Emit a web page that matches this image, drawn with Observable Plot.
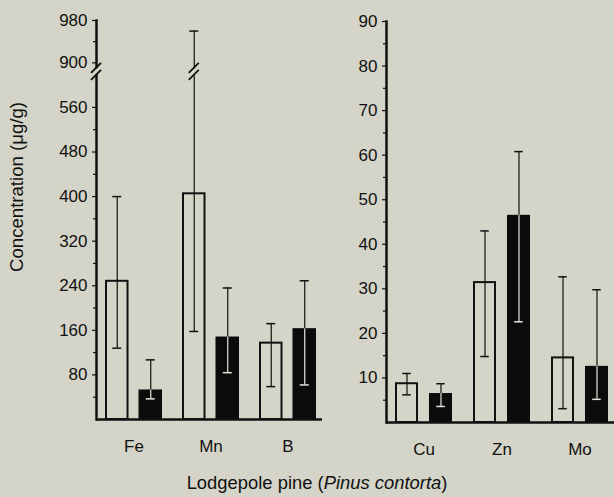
<!DOCTYPE html>
<html><head><meta charset="utf-8">
<script src="https://cdn.jsdelivr.net/npm/d3@7"></script>
<script src="https://cdn.jsdelivr.net/npm/@observablehq/plot@0.6"></script>
<style>
html,body{margin:0;padding:0;background:#d4d5c8;}
#chart{position:relative;width:614px;height:497px;overflow:hidden;background:#d4d5c8;font-family:"Liberation Sans",Arial,sans-serif;color:#111;}
#left,#right{position:absolute;top:0;}
#left{left:0}
#right{left:326px}
#ytitle{position:absolute;left:17px;top:187px;transform:translate(-50%,-50%) rotate(-90deg);white-space:nowrap;font-size:18.6px;line-height:1;}
#caption{position:absolute;left:317px;top:474px;transform:translateX(-50%);white-space:nowrap;font-size:18.4px;line-height:1;}
</style></head><body>
<div id="chart"><div id="left"></div><div id="right"></div><div id="ytitle">Concentration (μg/g)</div><div id="caption">Lodgepole pine (<i>Pinus contorta</i>)</div></div>
<script>
// ---- data ----
const leftElements = ["Fe", "Mn", "B"];
const leftOpen    = [248, 405, 137];
const leftOpenLo  = [128, 158, 59];
const leftOpenHi  = [400, 960, 172];
const leftSolid   = [53, 148, 163];
const leftSolidLo = [37, 84, 62];
const leftSolidHi = [107, 236, 249];
const leftTicks = [80, 160, 240, 320, 400, 480, 560, 900, 980];
const leftMinor = [40, 120, 200, 280, 360, 440, 520, 940];

const rightElements = ["Cu", "Zn", "Mo"];
const rightOpen    = [8.7, 31.4, 14.5];
const rightOpenLo  = [6.2, 14.8, 3.1];
const rightOpenHi  = [11.0, 43.0, 32.7];
const rightSolid   = [6.5, 46.5, 12.6];
const rightSolidLo = [3.6, 22.6, 5.2];
const rightSolidHi = [8.7, 60.8, 29.8];
const rightTicks = [10, 20, 30, 40, 50, 60, 70, 80, 90];
const rightMinor = [5, 15, 25, 35, 45, 55, 65, 75, 85];

// broken axis: 560 -> 900 gap compressed
const brk = v => v <= 560 ? v : 640 + (v - 900) * 0.95;
const ident = v => v;

const BG = "#d4d5c8", INK = "#111", LIGHT = "#e6e6dc";

function panel(o) {
  const n = o.elements.length;
  const pi = 0.265, po = 0.09, align = 0.6;
  const W = o.width - o.mL;
  const step = W / (n - pi + 2 * po);
  const bw = step * (1 - pi);
  const barW = 23.5;
  const off = bw / 2 - barW / 2;
  const capW = 9, capIn = (barW - capW) / 2;
  const f = o.f;
  const rows = o.elements.map((el, i) => ({
    el, open: o.open[i], openLo: o.openLo[i], openHi: o.openHi[i],
    solid: o.solid[i], solidLo: o.solidLo[i], solidHi: o.solidHi[i]
  }));
  const labels = new Map(o.ticks.map(v => [f(v), String(v)]));
  const plot = Plot.plot({
    width: o.width, height: o.height,
    marginLeft: o.mL, marginRight: 0, marginTop: o.mT, marginBottom: o.mB,
    style: {background: "transparent", fontFamily: "'Liberation Sans', Arial, sans-serif", fontSize: "17px", color: INK, overflow: "visible"},
    x: {domain: o.elements, paddingInner: pi, paddingOuter: po, align, label: null},
    y: {domain: [0, o.yMax], label: null},
    marks: [
      Plot.barY(rows, {x: "el", y1: 0, y2: d => f(d.open), insetLeft: 1, insetRight: bw - barW + 1, fill: "none", stroke: INK, strokeWidth: 2}),
      Plot.barY(rows, {x: "el", y1: 0, y2: d => f(d.solid), insetLeft: bw - barW, fill: "#0b0b0b"}),
      Plot.ruleX(rows, {x: "el", y1: d => f(d.openLo), y2: d => f(d.openHi), dx: -off, stroke: INK, strokeWidth: 1.2}),
      Plot.tickY(rows, {x: "el", y: d => f(d.openLo), insetLeft: capIn, insetRight: bw - barW + capIn, stroke: INK, strokeWidth: 1.5}),
      Plot.tickY(rows, {x: "el", y: d => f(d.openHi), insetLeft: capIn, insetRight: bw - barW + capIn, stroke: INK, strokeWidth: 1.5}),
      Plot.ruleX(rows, {x: "el", y1: d => f(d.solidLo), y2: d => f(d.solid), dx: off, stroke: LIGHT, strokeWidth: 1.2}),
      Plot.ruleX(rows, {x: "el", y1: d => f(d.solid), y2: d => f(d.solidHi), dx: off, stroke: INK, strokeWidth: 1.2}),
      Plot.tickY(rows, {x: "el", y: d => f(d.solidLo), insetLeft: bw - barW + capIn, insetRight: capIn, stroke: LIGHT, strokeWidth: 1.5}),
      Plot.tickY(rows, {x: "el", y: d => f(d.solidHi), insetLeft: bw - barW + capIn, insetRight: capIn, stroke: INK, strokeWidth: 1.5}),
      Plot.ruleY([0], {stroke: INK, strokeWidth: 2.5}),
      Plot.frame({anchor: "left", stroke: INK, strokeWidth: 2.5}),
      Plot.axisY({ticks: o.ticks.map(f), tickFormat: d => labels.get(d), tickSize: 4, tickPadding: 5, strokeWidth: 1.2, label: null}),
      Plot.axisY({ticks: o.minor.map(f), tickFormat: () => "", tickSize: 3, strokeWidth: 1.2, label: null}),
      Plot.axisX({tickSize: 0, tickPadding: 20, label: null})
    ]
  });
  return {plot, barW};
}

const L = panel({elements: leftElements, open: leftOpen, openLo: leftOpenLo, openHi: leftOpenHi,
  solid: leftSolid, solidLo: leftSolidLo, solidHi: leftSolidHi, ticks: leftTicks, minor: leftMinor,
  f: brk, yMax: brk(980), width: 322, height: 470, mL: 96, mT: 20, mB: 51});
document.getElementById("left").appendChild(L.plot);

const R = panel({elements: rightElements, open: rightOpen, openLo: rightOpenLo, openHi: rightOpenHi,
  solid: rightSolid, solidLo: rightSolidLo, solidHi: rightSolidHi, ticks: rightTicks, minor: rightMinor,
  f: ident, yMax: 90, width: 288, height: 470, mL: 60, mT: 21, mB: 48});
document.getElementById("right").appendChild(R.plot);

// break marks, placed through the plot's own scales
(function () {
  const svg = d3.select(L.plot);
  const ys = L.plot.scale("y"), xs = L.plot.scale("x");
  const yb = ys.apply(brk(900)) + 9;
  const g = svg.append("g");
  function slashes(x, y, gapH, thick) {
    g.append("rect").attr("x", x - 3).attr("y", y - gapH / 2).attr("width", 6).attr("height", gapH).attr("fill", BG);
    for (const d of [-3.5, 3.5]) {
      g.append("line").attr("x1", x - 5).attr("y1", y + d + 5).attr("x2", x + 5).attr("y2", y + d - 5)
        .attr("stroke", INK).attr("stroke-width", thick);
    }
  }
  slashes(96, yb, 6, 2);
  slashes(xs.apply("Mn") + L.barW / 2, yb, 6, 1.8);
})();
</script>
</body></html>
